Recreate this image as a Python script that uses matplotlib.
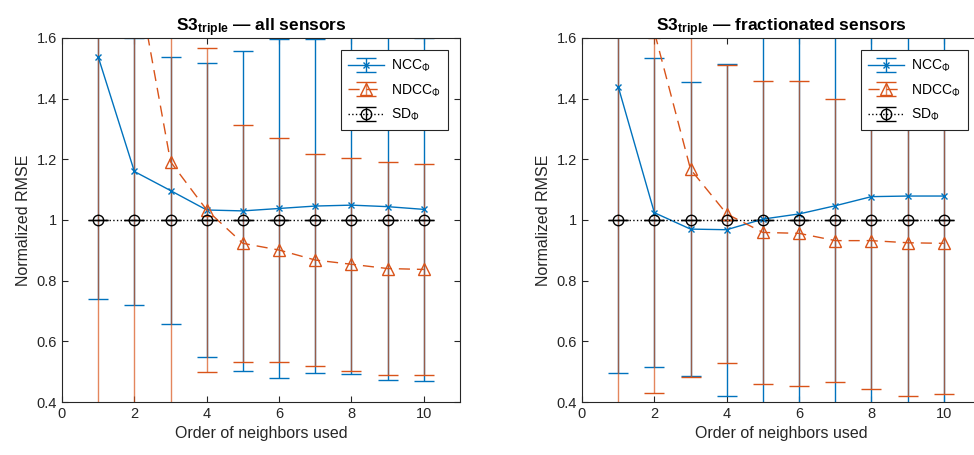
"""
Normalized RMSE over the neighbor order for S3_triple,
all sensors vs. fractionated sensors.
"""

import numpy as np
import matplotlib.pyplot as plt
from matplotlib import rcParams
from matplotlib.ticker import FuncFormatter

rcParams['font.family'] = 'Liberation Sans'
rcParams['font.size'] = 10
rcParams['mathtext.fontset'] = 'custom'
rcParams['mathtext.rm'] = 'Liberation Sans'
rcParams['mathtext.it'] = 'Liberation Sans:italic'
rcParams['mathtext.bf'] = 'Liberation Sans:bold'

# Order of neighbors
neighbors = [1, 2, 3, 4, 5, 6, 7, 8, 9, 10]

# All sensors
ncc_all = [1.538, 1.160, 1.097, 1.033, 1.030, 1.038, 1.046, 1.049, 1.044, 1.035]
ncc_all_err = [0.80, 0.44, 0.44, 0.485, 0.527, 0.56, 0.55, 0.556, 0.57, 0.565]
ndcc_all = [2.30, 1.85, 1.192, 1.033, 0.923, 0.901, 0.868, 0.854, 0.840, 0.837]
ndcc_all_err = [2.0, 1.6, 0.85, 0.535, 0.39, 0.37, 0.35, 0.352, 0.351, 0.347]

# Fractionated sensors
ncc_frac = [1.440, 1.024, 0.970, 0.968, 1.003, 1.020, 1.047, 1.077, 1.079, 1.079]
ncc_frac_err = [0.943, 0.509, 0.485, 0.547, 0.68, 0.68, 0.70, 0.72, 0.72, 0.73]
ndcc_frac = [2.00, 1.62, 1.167, 1.020, 0.959, 0.956, 0.932, 0.932, 0.925, 0.923]
ndcc_frac_err = [1.7, 1.19, 0.686, 0.49, 0.50, 0.502, 0.467, 0.49, 0.505, 0.498]

# Reference (SD), normalized to 1
sd = [1.0] * 10
sd_err = [0.0] * 10

blue = '#0072BD'
orange = '#D95319'
axis_col = '#262626'


def draw_panel(ax, ncc, ncc_err, ndcc, ndcc_err, title):
    ax.errorbar(neighbors, ncc, yerr=ncc_err, color=blue, linestyle='-',
                marker='x', markersize=5, markeredgewidth=1.0, linewidth=1.0,
                capsize=7, elinewidth=1.0, label=r'NCC$_\Phi$')
    e2 = ax.errorbar(neighbors, ndcc, yerr=ndcc_err, color=orange,
                     linestyle=(0, (8, 5)), marker='^', markersize=8,
                     markerfacecolor='none', linewidth=1.0, capsize=7,
                     elinewidth=1.0, label=r'NDCC$_\Phi$')
    # orange bars slightly transparent so overlapping blue shows through
    e2[2][0].set_alpha(0.7)
    ax.errorbar(neighbors, sd, yerr=sd_err, color='black', linestyle=':',
                marker='o', markersize=7.5, markerfacecolor='none',
                linewidth=1.0, capsize=7, elinewidth=1.0, label=r'SD$_\Phi$')

    ax.set_xlim(0, 11)
    ax.set_ylim(0.4, 1.6)
    ax.set_xticks([0, 2, 4, 6, 8, 10])
    ax.set_yticks([0.4, 0.6, 0.8, 1.0, 1.2, 1.4, 1.6])
    ax.yaxis.set_major_formatter(FuncFormatter(lambda v, p: f'{v:g}'))
    ax.tick_params(direction='in', top=True, right=True, length=4,
                   width=0.8, colors=axis_col, labelsize=10.5)
    for s in ax.spines.values():
        s.set_color(axis_col)
        s.set_linewidth(0.8)

    ax.set_xlabel('Order of neighbors used', fontsize=11.5, color=axis_col)
    ax.set_ylabel('Normalized RMSE', fontsize=11.5, color=axis_col)
    ax.set_title(title, fontsize=12.5, fontweight='bold', pad=5)

    leg = ax.legend(loc='upper right', fontsize=10, fancybox=False,
                    framealpha=1, edgecolor=axis_col, borderaxespad=0.9,
                    handlelength=2.6, handletextpad=0.5, labelspacing=0.6,
                    borderpad=0.5)
    leg.get_frame().set_linewidth(0.8)


fig = plt.figure(figsize=(9.74, 4.55), dpi=100)
ax1 = fig.add_axes([62 / 974, 53 / 455, 398 / 974, 364 / 455])
ax2 = fig.add_axes([582 / 974, 53 / 455, 398 / 974, 364 / 455])

draw_panel(ax1, ncc_all, ncc_all_err, ndcc_all, ndcc_all_err,
           r'S3$_{\mathbf{triple}}$ — all sensors')
draw_panel(ax2, ncc_frac, ncc_frac_err, ndcc_frac, ndcc_frac_err,
           r'S3$_{\mathbf{triple}}$ — fractionated sensors')

plt.savefig('out.png', dpi=100)
